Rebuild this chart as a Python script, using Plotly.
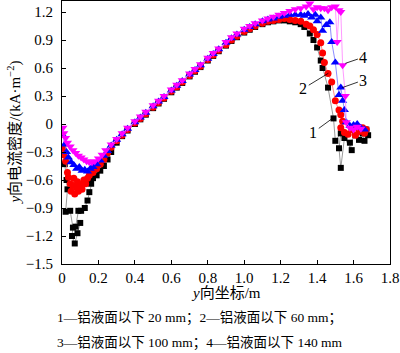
import plotly.graph_objects as go

# ---------------- data ----------------
x_ticks = [0, 0.2, 0.4, 0.6, 0.8, 1.0, 1.2, 1.4, 1.6, 1.8]
x_ticklabels = ["0", "0.2", "0.4", "0.6", "0.8", "1.0", "1.2", "1.4", "1.6", "1.8"]
y_ticks = [1.2, 0.9, 0.6, 0.3, 0, -0.3, -0.6, -0.9, -1.2, -1.5]
y_ticklabels = ["1.2", "0.9", "0.6", "0.3", "0", "\u22120.3", "\u22120.6", "\u22120.9", "\u22121.2", "\u22121.5"]

series_names = ["1", "2", "3", "4"]

# series 1: 20 mm below aluminium surface
x_1 = [0.005, 0.015, 0.025, 0.03, 0.02, 0.045, 0.06, 0.055, 0.07, 0.085, 0.10, 0.075, 0.09, 0.105, 0.125, 0.14, 0.15, 0.16, 0.17, 0.19, 0.21, 0.23, 0.25, 0.27,
       0.30, 0.33, 0.36, 0.40, 0.43, 0.46, 0.50, 0.53, 0.56, 0.60, 0.63, 0.66, 0.70, 0.73, 0.76, 0.80, 0.83, 0.86, 0.90, 0.93, 0.96, 1.00, 1.03, 1.06,
       1.10, 1.13, 1.16, 1.19, 1.22, 1.25, 1.28, 1.31, 1.33, 1.36, 1.38, 1.40, 1.42, 1.43, 1.46, 1.49, 1.50, 1.53, 1.52, 1.53, 1.55, 1.59, 1.58, 1.61, 1.63, 1.65, 1.67, 1.68, 1.66, 1.64]
y_1 = [-0.25, -0.43, -0.60, -0.70, -0.94, -0.93, -1.11, -1.20, -1.28, -1.17, -1.06, -1.10, -0.93, -0.93, -0.90, -0.82, -0.73, -0.64, -0.58, -0.55, -0.50, -0.45, -0.38, -0.30,
       -0.20, -0.13, -0.07, 0.00, 0.05, 0.10, 0.17, 0.22, 0.27, 0.34, 0.39, 0.44, 0.51, 0.56, 0.61, 0.68, 0.73, 0.78, 0.84, 0.89, 0.93, 0.98, 1.01, 1.04,
       1.07, 1.09, 1.10, 1.11, 1.11, 1.10, 1.09, 1.07, 1.04, 0.97, 0.90, 0.82, 0.68, 0.60, 0.39, 0.06, -0.18, -0.10, -0.26, -0.47, -0.15, -0.28, -0.20, -0.12, -0.17, -0.10, -0.06, -0.12, -0.18, -0.08]

# series 2: 60 mm
x_2 = [0.005, 0.01, 0.02, 0.03, 0.035, 0.045, 0.05, 0.06, 0.065, 0.07, 0.08, 0.085, 0.09, 0.10, 0.11, 0.12, 0.13, 0.14, 0.15, 0.17, 0.19, 0.21, 0.23, 0.25, 0.27,
       0.30, 0.33, 0.36, 0.40, 0.43, 0.46, 0.50, 0.53, 0.56, 0.60, 0.63, 0.66, 0.70, 0.73, 0.76, 0.80, 0.83, 0.86, 0.90, 0.93, 0.96, 1.00, 1.03, 1.06,
       1.10, 1.13, 1.16, 1.19, 1.22, 1.25, 1.28, 1.31, 1.34, 1.36, 1.38, 1.40, 1.42, 1.43, 1.44, 1.46, 1.48, 1.50, 1.52, 1.53, 1.54, 1.53, 1.55, 1.57, 1.59, 1.61, 1.63, 1.65, 1.66, 1.67]
y_2 = [-0.26, -0.33, -0.40, -0.52, -0.57, -0.64, -0.72, -0.66, -0.58, -0.75, -0.68, -0.62, -0.72, -0.65, -0.70, -0.60, -0.64, -0.58, -0.55, -0.52, -0.48, -0.43, -0.38, -0.31, -0.25,
       -0.18, -0.12, -0.06, 0.01, 0.06, 0.11, 0.18, 0.23, 0.28, 0.35, 0.40, 0.45, 0.52, 0.57, 0.62, 0.69, 0.74, 0.79, 0.85, 0.90, 0.94, 0.99, 1.02, 1.05,
       1.08, 1.10, 1.11, 1.12, 1.13, 1.12, 1.11, 1.10, 1.07, 1.05, 1.01, 0.96, 0.87, 0.76, 0.66, 0.54, 0.45, 0.25, 0.15, 0.10, 0.03, -0.04, -0.09, -0.11, -0.06, -0.12, -0.08, -0.04, -0.10, -0.06]

# series 3: 100 mm
x_3 = [0.005, 0.015, 0.025, 0.035, 0.05, 0.065, 0.08, 0.095, 0.11, 0.125, 0.14, 0.155, 0.17, 0.19, 0.21, 0.23, 0.25, 0.27,
       0.30, 0.33, 0.36, 0.40, 0.43, 0.46, 0.50, 0.53, 0.56, 0.60, 0.63, 0.66, 0.70, 0.73, 0.76, 0.80, 0.83, 0.86, 0.90, 0.93, 0.96, 1.00, 1.03, 1.06,
       1.10, 1.13, 1.16, 1.19, 1.22, 1.25, 1.28, 1.31, 1.33, 1.35, 1.37, 1.39, 1.40, 1.42, 1.43, 1.45, 1.47, 1.48, 1.50, 1.52, 1.53, 1.54, 1.55, 1.56, 1.58, 1.60, 1.62, 1.64, 1.66]
y_3 = [-0.12, -0.22, -0.30, -0.36, -0.41, -0.44, -0.48, -0.46, -0.50, -0.49, -0.51, -0.48, -0.46, -0.43, -0.39, -0.34, -0.29, -0.23,
       -0.17, -0.11, -0.05, 0.02, 0.07, 0.12, 0.19, 0.24, 0.29, 0.36, 0.41, 0.46, 0.53, 0.58, 0.63, 0.70, 0.75, 0.80, 0.87, 0.92, 0.96, 1.01, 1.04, 1.07,
       1.10, 1.12, 1.13, 1.15, 1.16, 1.17, 1.17, 1.17, 1.16, 1.18, 1.14, 1.17, 1.10, 1.14, 1.00, 1.06, 1.09, 0.88, 0.66, 0.31, 0.39, 0.25, 0.15, 0.02, -0.02, -0.01, 0.00, -0.04, -0.06]

# series 4: 140 mm
x_4 = [0.005, 0.01, 0.02, 0.03, 0.045, 0.06, 0.075, 0.09, 0.105, 0.12, 0.135, 0.15, 0.165, 0.18, 0.20, 0.22, 0.24, 0.27,
       0.30, 0.33, 0.36, 0.40, 0.43, 0.46, 0.50, 0.53, 0.56, 0.60, 0.63, 0.66, 0.70, 0.73, 0.76, 0.80, 0.83, 0.86, 0.90, 0.93, 0.96, 1.00, 1.03, 1.06,
       1.10, 1.13, 1.16, 1.19, 1.22, 1.25, 1.28, 1.31, 1.34, 1.36, 1.38, 1.40, 1.42, 1.44, 1.46, 1.48, 1.50, 1.51, 1.52, 1.53, 1.54, 1.555, 1.56, 1.58, 1.60, 1.62, 1.64]
y_4 = [-0.04, -0.10, -0.15, -0.20, -0.24, -0.28, -0.31, -0.34, -0.36, -0.38, -0.40, -0.41, -0.41, -0.40, -0.37, -0.33, -0.28, -0.22,
       -0.16, -0.10, -0.04, 0.03, 0.08, 0.13, 0.20, 0.25, 0.30, 0.37, 0.42, 0.47, 0.54, 0.59, 0.64, 0.71, 0.76, 0.81, 0.88, 0.93, 0.97, 1.02, 1.05, 1.08,
       1.11, 1.13, 1.15, 1.17, 1.19, 1.21, 1.23, 1.24, 1.26, 1.29, 1.23, 1.25, 1.24, 1.24, 1.22, 1.25, 1.26, 0.88, 1.22, 1.20, 0.63, 0.30, 0.02, -0.04, -0.06, -0.03, -0.05]

caption_1 = "1\u2014铝液面以下 20 mm；2\u2014铝液面以下 60 mm；"
caption_2 = "3\u2014铝液面以下 100 mm；4\u2014铝液面以下 140 mm"

# ---------------- styling ----------------
FONT = "Liberation Serif, 'Noto Sans CJK SC', serif"
styles = [
    dict(symbol="square", size=6, color="#000000", line="#808080"),
    dict(symbol="circle", size=7, color="#ff0000", line="#ff7070"),
    dict(symbol="triangle-up", size=8, color="#0000ff", line="#7070ff"),
    dict(symbol="triangle-down", size=8, color="#ff00ff", line="#ff80ff"),
]

fig = go.Figure()
for name, xs, ys, st in zip(series_names, [x_1, x_2, x_3, x_4], [y_1, y_2, y_3, y_4], styles):
    fig.add_trace(go.Scatter(
        x=xs, y=ys, name=name, mode="lines+markers",
        line=dict(color=st["line"], width=0.8),
        marker=dict(symbol=st["symbol"], size=st["size"], color=st["color"], line=dict(width=0)),
    ))

axis_common = dict(
    showgrid=False, zeroline=False, showline=True, linecolor="black", linewidth=1.2,
    mirror=True, ticks="inside", ticklen=4, tickwidth=1, tickcolor="black",
    tickfont=dict(family=FONT, size=15, color="black"),
)

fig.update_layout(
    width=400, height=353,
    margin=dict(l=62, r=10, t=1, b=89),
    plot_bgcolor="white", paper_bgcolor="white",
    showlegend=False,
    font=dict(family=FONT, color="black"),
    xaxis=dict(range=[0, 1.8], tickvals=x_ticks, ticktext=x_ticklabels, **axis_common),
    yaxis=dict(range=[-1.5, 1.318], tickvals=y_ticks, ticktext=y_ticklabels, ticklabelstandoff=5, **axis_common),
)

# axis titles and captions
fig.add_annotation(xref="paper", yref="paper", x=0.5, y=-0.11, text="<i>y</i>向坐标/m",
                   showarrow=False, font=dict(family=FONT, size=15), xanchor="center", yanchor="middle")
fig.add_annotation(xref="paper", yref="paper", x=-0.146, y=0.5, text="<i>y</i>向电流密度/(kA·m<sup>\u22122</sup>)",
                   showarrow=False, textangle=-90, font=dict(family=FONT, size=15), xanchor="center", yanchor="middle")
fig.add_annotation(xref="paper", yref="paper", x=-0.021, y=-0.205, text=caption_1,
                   showarrow=False, font=dict(family=FONT, size=13.5), xanchor="left", yanchor="middle")
fig.add_annotation(xref="paper", yref="paper", x=-0.021, y=-0.300, text=caption_2,
                   showarrow=False, font=dict(family=FONT, size=13.5), xanchor="left", yanchor="middle")

# curve labels with leader lines
labels = [
    ("1", 1.484, 0.06, 1.379, -0.09),
    ("2", 1.462, 0.544, 1.324, 0.38),
    ("3", 1.538, 0.39, 1.654, 0.47),
    ("4", 1.555, 0.65, 1.654, 0.716),
]
for t, px, py, tx, ty in labels:
    fig.add_annotation(x=px, y=py, ax=tx, ay=ty, xref="x", yref="y", axref="x", ayref="y",
                       text=t, showarrow=True, arrowhead=0, arrowwidth=0.8, arrowcolor="black",
                       standoff=0, font=dict(family=FONT, size=16, color="black"))

fig.write_html("out.html")
